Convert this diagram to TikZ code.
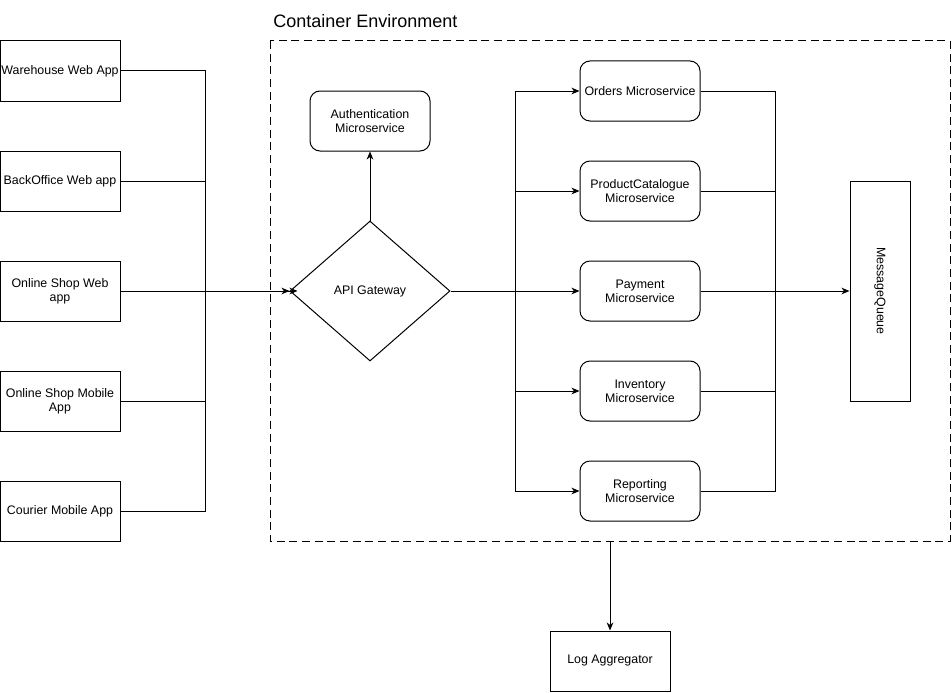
\documentclass[tikz,border=0pt]{standalone}
\usepackage{fontspec}
\setmainfont{Liberation Sans}
\usetikzlibrary{shapes.geometric,arrows.meta}
\begin{document}
\begin{tikzpicture}[x=0.75pt,y=-0.75pt,
  every node/.style={font=\fontsize{9.3}{10.8}\selectfont, align=center, inner sep=1pt},
  box/.style={draw, line width=0.75pt, minimum width=90pt, minimum height=45pt},
  rbox/.style={box, rounded corners=7.5pt},
  wire/.style={line width=0.75pt},
  arr/.style={line width=0.75pt, -{Stealth[length=6pt,width=5pt,inset=1.8pt]}},
  cont/.style={draw, line width=0.75pt, dash pattern=on 6pt off 3.5pt}]
\useasboundingbox (0,0) rectangle (952,692);
% left apps
\node[box] (wh) at (60,71) {Warehouse Web App};
\node[box] (bo) at (60,181) {BackOffice Web app};
\node[box] (osw) at (60,291) {Online Shop Web\\app};
\node[box] (osm) at (60,401) {Online Shop Mobile\\App};
\node[box] (cm) at (60,511) {Courier Mobile App};
% container
\draw[cont] (270,41) rectangle (950,541);
\coordinate (contbot) at (610,541);
\node[anchor=base west, font=\fontsize{13.5}{16}\selectfont, inner sep=0pt] (ctitle) at (273,27.5) {Container Environment};
% gateway & auth
\node[draw, diamond, line width=0.75pt, minimum width=120pt, minimum height=105pt, inner sep=0pt] (gw) at (370,291) {API Gateway};
\node[rbox] (auth) at (370,121) {Authentication\\Microservice};
% microservices
\node[rbox] (ord) at (640,91) {Orders Microservice};
\node[rbox] (pc) at (640,191) {ProductCatalogue\\Microservice};
\node[rbox] (pay) at (640,291) {Payment\\Microservice};
\node[rbox] (inv) at (640,391) {Inventory\\Microservice};
\node[rbox] (rep) at (640,491) {Reporting\\Microservice};
% message queue
\node[box, minimum width=45pt, minimum height=165pt] (mq) at (880,291) {};
\node[rotate=-90] (mqt) at (mq.center) {MessageQueue};
% log aggregator
\node[box] (log) at (610,661) {Log Aggregator};
% left bus
\coordinate (lb) at (205,291);
\draw[wire] (wh.east) -| (lb);
\draw[wire] (bo.east) -| (lb);
\draw[wire] (osm.east) -| (lb);
\draw[wire] (cm.east) -| (lb);
\draw[arr] (osw.east) -- (gw.west);
\draw[arr] (lb) -- ([xshift=6pt]gw.west);
% gateway to auth
\draw[arr] (gw.north) -- (auth.south);
% gateway to microservices
\coordinate (mb) at (515,291);
\draw[arr] (gw.east) -- (pay.west);
\draw[arr] (mb) |- (ord.west);
\draw[arr] (mb) |- (pc.west);
\draw[arr] (mb) |- (inv.west);
\draw[arr] (mb) |- (rep.west);
% microservices to queue
\coordinate (rb) at (775,291);
\draw[wire] (ord.east) -| (rb);
\draw[wire] (pc.east) -| (rb);
\draw[wire] (inv.east) -| (rb);
\draw[wire] (rep.east) -| (rb);
\draw[arr] (pay.east) -- (mq.west);
% container to log
\draw[arr] (contbot) -- (log.north);
\end{tikzpicture}
\end{document}
